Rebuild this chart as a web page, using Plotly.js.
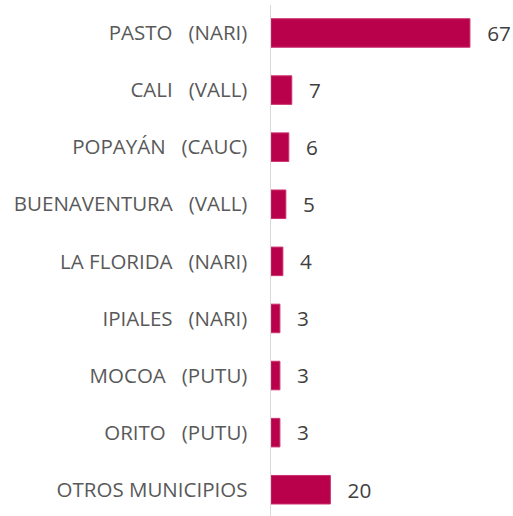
<!DOCTYPE html>
<html>
<head>
<meta charset="utf-8">
<script src="https://cdn.plot.ly/plotly-3.0.1.min.js"></script>
<style>html,body{margin:0;padding:0;background:#fff;}#chart{width:513px;height:516px;}</style>
</head>
<body>
<div id="chart"></div>
<script>
const categories = [
  "PASTO   (NARI)",
  "CALI   (VALL)",
  "POPAYÁN   (CAUC)",
  "BUENAVENTURA   (VALL)",
  "LA FLORIDA   (NARI)",
  "IPIALES   (NARI)",
  "MOCOA   (PUTU)",
  "ORITO   (PUTU)",
  "OTROS MUNICIPIOS"
];
const values = [67, 7, 6, 5, 4, 3, 3, 3, 20];

const tickText = categories.map(c => c.replace(/ {3}/g, "\u00a0\u00a0\u00a0"));

const trace = {
  type: "bar",
  orientation: "h",
  y: tickText,
  x: values,
  text: values.map(v => "\u00a0\u00a0\u2009" + v),
  textposition: "outside",
  textfont: {family: "Open Sans, Noto Sans, sans-serif", size: 22.5, color: "#404040"},
  cliponaxis: false,
  marker: {color: "#B8004B", line: {color: "#CC3370", width: 1}},
  hoverinfo: "none"
};

const layout = {
  width: 513, height: 516,
  margin: {l: 271, r: 0, t: 5, b: 0},
  paper_bgcolor: "#ffffff", plot_bgcolor: "#ffffff",
  showlegend: false,
  bargap: 0.5,
  xaxis: {range: [0, 81.5], showgrid: false, zeroline: false, showticklabels: false, showline: false, fixedrange: true},
  yaxis: {
    type: "category",
    range: [8.46, -0.49],
    showgrid: false, zeroline: false,
    showline: true, linecolor: "#D9D9D9", linewidth: 1.5,
    ticks: "", ticklabelstandoff: 18,
    tickfont: {family: "Open Sans, Noto Sans, sans-serif", size: 20.5, color: "#595959"}
  },
  font: {family: "Open Sans, sans-serif"}
};

Plotly.newPlot("chart", [trace], layout, {staticPlot: true, displayModeBar: false});
</script>
</body>
</html>
